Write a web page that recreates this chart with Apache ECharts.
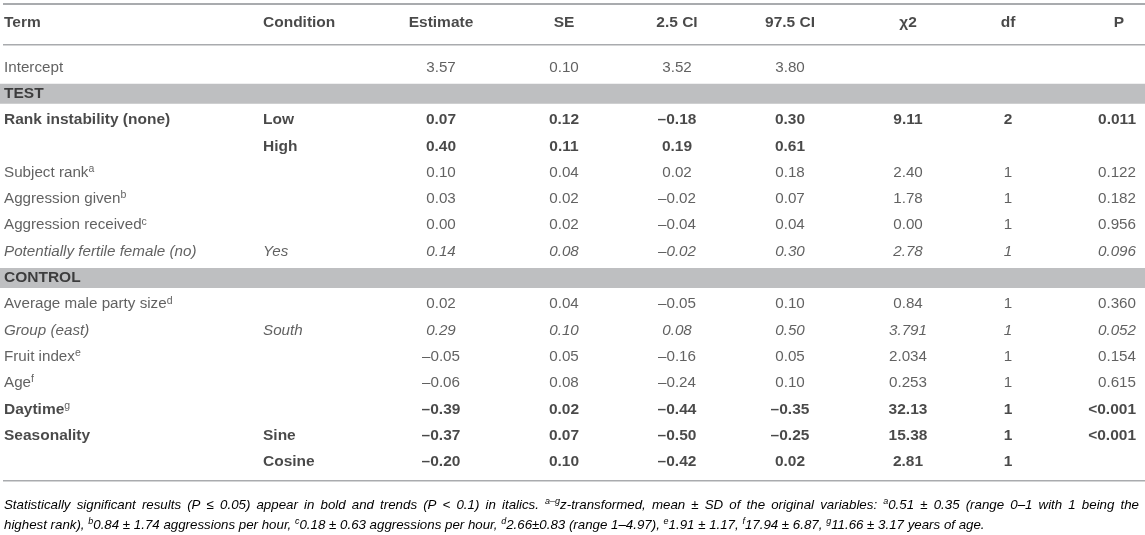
<!DOCTYPE html>
<html>
<head>
<meta charset="utf-8">
<script src="https://cdn.jsdelivr.net/npm/echarts@6/dist/echarts.min.js"></script>
<style>
html,body{margin:0;padding:0;background:#fff;}
#chart{width:1145px;height:535px;}
</style>
</head>
<body>
<div id="chart"></div>
<script>
// ---------- DATA ----------
const columns = ['Term', 'Condition', 'Estimate', 'SE', '2.5 CI', '97.5 CI', 'χ2', 'df', 'P'];
const terms = ['Intercept', 'TEST', 'Rank instability (none)', '', 'Subject rank', 'Aggression given',
  'Aggression received', 'Potentially fertile female (no)', 'CONTROL', 'Average male party size',
  'Group (east)', 'Fruit index', 'Age', 'Daytime', 'Seasonality', ''];
const termNotes = ['', '', '', '', 'a', 'b', 'c', '', '', 'd', '', 'e', 'f', 'g', '', ''];
const conditions = ['', '', 'Low', 'High', '', '', '', 'Yes', '', '', 'South', '', '', '', 'Sine', 'Cosine'];
const estimate = ['3.57', '', '0.07', '0.40', '0.10', '0.03', '0.00', '0.14', '', '0.02', '0.29', '-0.05', '-0.06', '-0.39', '-0.37', '-0.20'];
const se = ['0.10', '', '0.12', '0.11', '0.04', '0.02', '0.02', '0.08', '', '0.04', '0.10', '0.05', '0.08', '0.02', '0.07', '0.10'];
const ciLow = ['3.52', '', '-0.18', '0.19', '0.02', '-0.02', '-0.04', '-0.02', '', '-0.05', '0.08', '-0.16', '-0.24', '-0.44', '-0.50', '-0.42'];
const ciHigh = ['3.80', '', '0.30', '0.61', '0.18', '0.07', '0.04', '0.30', '', '0.10', '0.50', '0.05', '0.10', '-0.35', '-0.25', '0.02'];
const chi2 = ['', '', '9.11', '', '2.40', '1.78', '0.00', '2.78', '', '0.84', '3.791', '2.034', '0.253', '32.13', '15.38', '2.81'];
const dfs = ['', '', '2', '', '1', '1', '1', '1', '', '1', '1', '1', '1', '1', '1', '1'];
const pValues = ['', '', '0.011', '', '0.122', '0.182', '0.956', '0.096', '', '0.360', '0.052', '0.154', '0.615', '<0.001', '<0.001', ''];
// significance class of each row: 'sig' = P<=0.05 (bold), 'trend' = P<0.1 (italic), 'section' = block heading
const rowKind = ['', 'section', 'sig', 'sig', '', '', '', 'trend', 'section', '', 'trend', '', '', 'sig', 'sig', 'sig'];

// footnote: [text, isSuperscript]
const footLine1 = [
  ['Statistically significant results (P ≤ 0.05) appear in bold and trends (P < 0.1) in italics. ', false],
  ['a–g', true], ['z-transformed, mean ± SD of the original variables: ', false],
  ['a', true], ['0.51 ± 0.35 (range 0–1 with 1 being the', false]
];
const footLine2 = [
  ['highest rank), ', false], ['b', true], ['0.84 ± 1.74 aggressions per hour, ', false],
  ['c', true], ['0.18 ± 0.63 aggressions per hour, ', false], ['d', true], ['2.66±0.83 (range 1–4.97), ', false],
  ['e', true], ['1.91 ± 1.17, ', false], ['f', true], ['17.94 ± 6.87, ', false], ['g', true], ['11.66 ± 3.17 years of age.', false]
];

// ---------- LAYOUT ----------
const W = 1145;
const colAnchor = [4, 263, 441, 564, 677, 790, 908, 1008, 1136];
const colAlign = ['left', 'left', 'center', 'center', 'center', 'center', 'center', 'center', 'right'];
const headAnchor = [4, 263, 441, 564, 677, 790, 908, 1008, 1119];
const headAlign = ['left', 'left', 'center', 'center', 'center', 'center', 'center', 'center', 'center'];
const FONT = '"Liberation Sans", Arial, Helvetica, sans-serif';
const FS = 15.2, FSB = 15.5;
const C_REG = '#3a3a3a', C_BOLD = '#1c1c1c';
const rowStep = 26.3, firstRowY = 67.5;
const FOOT_FS = 13.3, FOOT_SUP = 9;
const footLeft = 4, footRight = 1139;

const rich = {
  n: {fontFamily: FONT, fontSize: FS, color: C_REG, lineHeight: 18},
  b: {fontFamily: FONT, fontSize: FSB, color: C_BOLD, fontWeight: 'bold', lineHeight: 18},
  i: {fontFamily: FONT, fontSize: FS, color: C_REG, fontStyle: 'italic', lineHeight: 18},
  s: {fontFamily: FONT, fontSize: 10.5, color: C_REG, verticalAlign: 'top', lineHeight: 12}
};
function styleKey(kind) {
  if (kind === 'sig' || kind === 'section') return 'b';
  if (kind === 'trend') return 'i';
  return 'n';
}
function fmt(v) { return String(v).replace(/^-/, '–'); }
const posFor = {left: 'right', center: 'inside', right: 'left'};

const bodyCols = [terms, conditions, estimate, se, ciLow, ciHigh, chi2, dfs, pValues];
const series = [];

// section bands
series.push({
  type: 'bar', xAxisIndex: 1, yAxisIndex: 1, silent: true, barWidth: 20,
  itemStyle: {color: '#bebfc1'},
  data: rowKind.map(k => k === 'section' ? W : '-')
});

// header cells
columns.forEach((h, c) => {
  series.push({
    type: 'scatter', xAxisIndex: 0, yAxisIndex: 0, symbolSize: 0, silent: true,
    label: {show: true, position: posFor[headAlign[c]], distance: 0, rich: rich,
      formatter: () => '{b|' + h + '}'},
    data: [[headAnchor[c], 0]]
  });
});

// body cells
bodyCols.forEach((col, c) => {
  const data = [];
  col.forEach((v, r) => {
    if (v === '') return;
    data.push({value: [colAnchor[c], r], name: String(r)});
  });
  series.push({
    type: 'scatter', xAxisIndex: 1, yAxisIndex: 1, symbolSize: 0, silent: true,
    label: {show: true, position: posFor[colAlign[c]], distance: 0, rich: rich,
      formatter: p => {
        const r = p.value[1];
        const k = styleKey(rowKind[r]);
        let s = '{' + k + '|' + fmt(col[r]) + '}';
        if (c === 0 && termNotes[r]) s += '{s|' + termNotes[r] + '}';
        return s;
      }},
    data: data
  });
});

const hiddenVal = {type: 'value', min: 0, max: W, show: false};
const bodyTop = firstRowY - rowStep / 2;
const bodyH = rowStep * terms.length;

// ---------- FOOTNOTE (first line justified, like the typeset source) ----------
const footRich = {
  t: {fontFamily: FONT, fontSize: FOOT_FS, fontStyle: 'italic', color: '#333', lineHeight: 16},
  s: {fontFamily: FONT, fontSize: FOOT_SUP, fontStyle: 'italic', color: '#333', verticalAlign: 'top', lineHeight: 10}
};
const mctx = document.createElement('canvas').getContext('2d');
function segWidth(text, sup) {
  mctx.font = 'italic ' + (sup ? FOOT_SUP : FOOT_FS) + 'px ' + FONT;
  return mctx.measureText(text).width;
}
function toRich(segs) {
  return segs.map(([t, sup]) => '{' + (sup ? 's' : 't') + '|' + t + '}').join('');
}
function splitWords(segs) {
  const words = [[]];
  segs.forEach(([text, sup]) => {
    text.split(' ').forEach((part, idx) => {
      if (idx > 0) words.push([]);
      if (part) words[words.length - 1].push([part, sup]);
    });
  });
  return words.filter(w => w.length);
}
const footGraphics = [];
(function () {
  const words = splitWords(footLine1);
  const widths = words.map(w => w.reduce((a, [t, s]) => a + segWidth(t, s), 0));
  const total = widths.reduce((a, b) => a + b, 0);
  const gap = (footRight - footLeft - total) / (words.length - 1);
  let x = footLeft;
  words.forEach((w, i) => {
    footGraphics.push({type: 'text', x: x, y: 497, silent: true,
      style: {text: toRich(w), rich: footRich, verticalAlign: 'top', align: 'left'}});
    x += widths[i] + gap;
  });
  footGraphics.push({type: 'text', x: footLeft, y: 517, silent: true,
    style: {text: toRich(footLine2), rich: footRich, verticalAlign: 'top', align: 'left'}});
})();

const ruleColor = '#a9abae';
const option = {
  animation: false,
  backgroundColor: '#fff',
  grid: [
    {left: 0, right: 0, top: 5, height: 36},
    {left: 0, right: 0, top: bodyTop, height: bodyH}
  ],
  xAxis: [Object.assign({gridIndex: 0}, hiddenVal), Object.assign({gridIndex: 1}, hiddenVal)],
  yAxis: [
    {gridIndex: 0, type: 'category', data: ['head'], show: false},
    {gridIndex: 1, type: 'category', inverse: true, data: terms.map((t, i) => 'row' + i), show: false}
  ],
  series: series,
  graphic: [
    {type: 'rect', shape: {x: 3, y: 3, width: W - 3, height: 2}, style: {fill: ruleColor}, silent: true},
    {type: 'rect', shape: {x: 3, y: 44, width: W - 3, height: 1.5}, style: {fill: ruleColor}, silent: true},
    {type: 'rect', shape: {x: 3, y: 480, width: W - 3, height: 1.5}, style: {fill: ruleColor}, silent: true}
  ].concat(footGraphics)
};

const chart = echarts.init(document.getElementById('chart'), null, {renderer: 'canvas'});
chart.setOption(option);
</script>
</body>
</html>
